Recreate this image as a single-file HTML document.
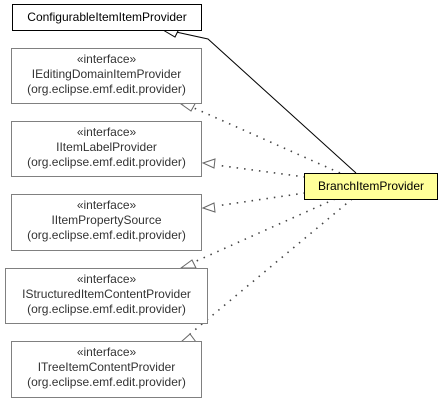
<!DOCTYPE html>
<html><head><style>
body{margin:0;width:445px;height:401px;background:#fff;position:relative;overflow:hidden;font-family:"Liberation Sans",sans-serif;font-size:12px;}
.b{position:absolute;box-sizing:border-box;border:1px solid #808080;background:#fff;text-align:center;color:#333;line-height:15px;padding-top:3px;}
</style></head><body>
<svg width="445" height="401" style="position:absolute;left:0;top:0">
<g fill="none" stroke="#000" stroke-width="1">
<polyline points="356,173 208,39 176,32"/>
</g>
<g fill="none" stroke="#444" stroke-width="1.6" stroke-dasharray="1.5 6">
<line x1="340" y1="173" x2="194" y2="108"/>
<line x1="305" y1="177" x2="216" y2="165"/>
<line x1="305" y1="193" x2="216" y2="206"/>
<line x1="335" y1="199" x2="192" y2="263"/>
<line x1="352" y1="199" x2="190" y2="334"/>
</g>
<g fill="#fff" stroke="#000">
<polygon points="163,30 175,37 179,29"/>
</g>
<g fill="#fff" stroke="#666">
<polygon points="181,104 191,111 196,102"/>
<polygon points="203,163 215,159 214,168"/>
<polygon points="203,208 214,203 215,212"/>
<polygon points="181,268 192,260 196,268"/>
<polygon points="181,342 190,334 196,342"/>
</g>
</svg>
<div class="b" style="left:12px;top:4px;width:190px;height:27px;border-color:#000;color:#000;padding-top:5px">ConfigurableItemItemProvider</div>
<div class="b" style="left:11px;top:48px;width:191px;height:56px">«interface»<br>IEditingDomainItemProvider<br>(org.eclipse.emf.edit.provider)</div>
<div class="b" style="left:11px;top:121px;width:191px;height:56px">«interface»<br>IItemLabelProvider<br>(org.eclipse.emf.edit.provider)</div>
<div class="b" style="left:11px;top:194px;width:191px;height:57px">«interface»<br>IItemPropertySource<br>(org.eclipse.emf.edit.provider)</div>
<div class="b" style="left:5px;top:268px;width:203px;height:56px">«interface»<br>IStructuredItemContentProvider<br>(org.eclipse.emf.edit.provider)</div>
<div class="b" style="left:11px;top:341px;width:191px;height:57px">«interface»<br>ITreeItemContentProvider<br>(org.eclipse.emf.edit.provider)</div>
<div class="b" style="left:304px;top:173px;width:134px;height:27px;border-color:#000;background:#ffff99;color:#000;padding-top:5px">BranchItemProvider</div>
</body></html>
